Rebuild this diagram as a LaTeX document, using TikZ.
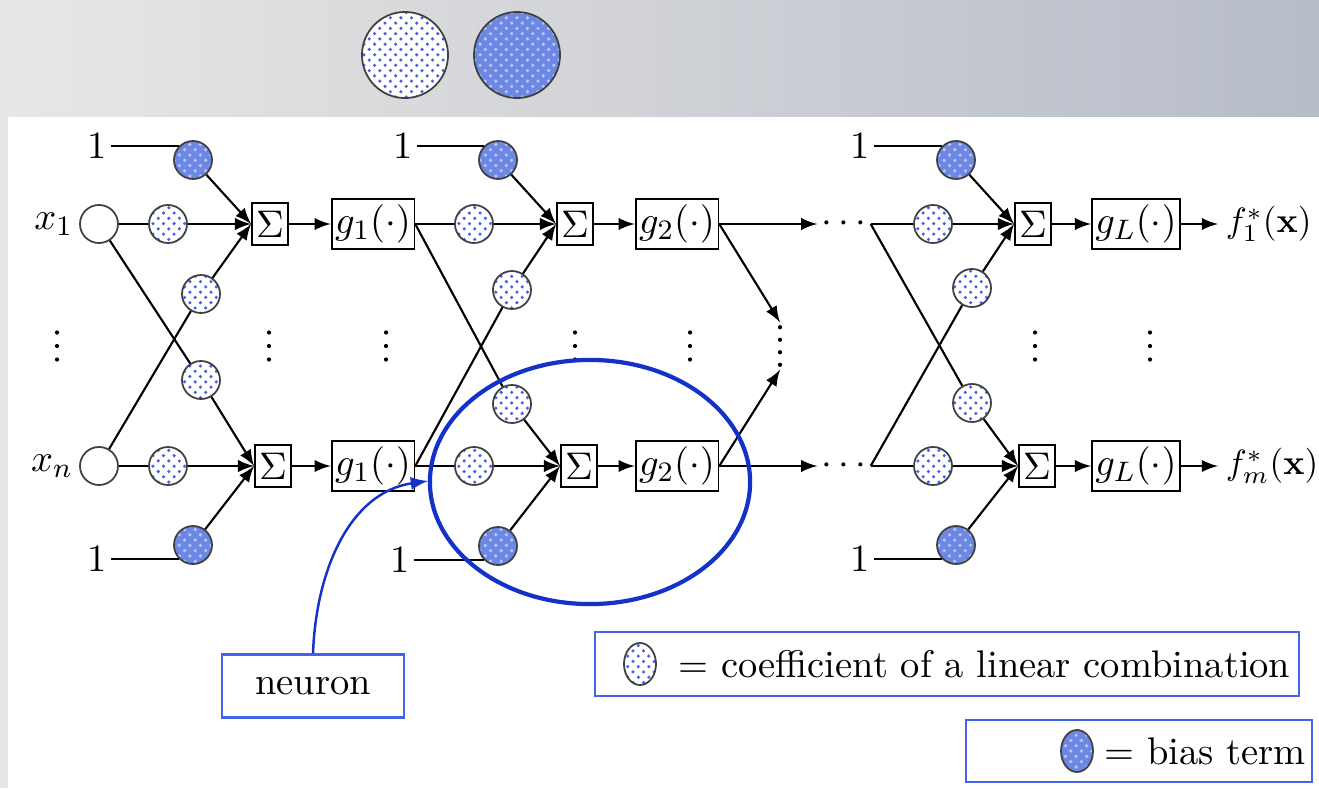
\documentclass[tikz,border=0pt]{standalone}
\usetikzlibrary{shapes.geometric,patterns}

\definecolor{biasblue}{RGB}{108,136,228}
\definecolor{dotblue}{RGB}{70,100,230}
\definecolor{ringblue}{RGB}{20,50,200}
\definecolor{boxblue}{RGB}{70,100,235}
\definecolor{bandleft}{RGB}{233,231,229}
\definecolor{bandright}{RGB}{182,188,200}

\tikzstyle{coef}=[circle,draw=black!75,line width=0.5pt,minimum size=0.38cm,inner sep=0pt,
preaction={fill=white},pattern=crosshatch dots,pattern color=dotblue]
\tikzstyle{bias}=[circle,draw=black!75,line width=0.5pt,minimum size=0.38cm,inner sep=0pt,
preaction={fill=biasblue},pattern=crosshatch dots,pattern color=white!55!biasblue]
\tikzstyle{input}=[circle,draw=black!75,line width=0.5pt,fill=white,minimum size=0.38cm,inner sep=0pt]
\tikzstyle{one}=[inner sep=1pt]
\tikzstyle{sumbox}=[rectangle,draw,line width=0.5pt,fill=white,minimum width=0.36cm,
minimum height=0.42cm,inner sep=0.5pt]
\tikzstyle{actbox}=[rectangle,draw,line width=0.5pt,fill=white,minimum width=0.78cm,
minimum height=0.5cm,inner sep=1pt]
\tikzstyle{dots}=[rectangle,minimum width=0.08cm,minimum height=0.32cm,inner sep=0pt,
path picture={\foreach \k in {-1,0,1}
  \fill (path picture bounding box.center) ++(0,\k*0.135cm) circle (0.6pt);}]
\tikzstyle{longdots}=[rectangle,minimum width=0.08cm,minimum height=0.46cm,inner sep=0pt,
path picture={\foreach \k in {-1.5,-0.5,0.5,1.5}
  \fill (path picture bounding box.center) ++(0,\k*0.125cm) circle (0.6pt);}]
\tikzstyle{line}=[draw,line width=0.6pt,color=black]
\tikzstyle{arrow}=[line,->,>=latex]
\tikzstyle{neuarrow}=[draw=ringblue,line width=0.7pt,->,>=latex]
\tikzstyle{legbox}=[rectangle,draw=boxblue,line width=0.6pt,fill=white]

\begin{document}
\begin{tikzpicture}[x=0.01cm,y=-0.01cm,font=\fontsize{10.95}{13}\selectfont]
% backdrop
\shade[left color=bandleft,right color=bandright] (0,0) rectangle (1319,117);
\fill[bandleft] (0,117) rectangle (8,788);
\useasboundingbox (0,0) rectangle (1319,788);

% header
\node[coef,minimum size=0.86cm] (hdcoef) at (405,55) {};
\node[bias,minimum size=0.86cm] (hdbias) at (517,55) {};

% layer 1
\node[input,label={[inner sep=1.5pt]left:$x_1$}] (in1) at (99,224) {};
\node[input,label={[inner sep=1.5pt]left:$x_n$}] (inn) at (99,466) {};
\node[coef] (c1a) at (168,224) {};
\node[coef] (c1n) at (168,466) {};
\node[coef] (x1a) at (201,294) {};
\node[coef] (x1n) at (201,380) {};
\node[bias] (b1a) at (193,160) {};
\node[bias] (b1n) at (193,545) {};
\node[one] (one1a) at (97,0 |- b1a.135) {1};
\node[one] (one1n) at (97,0 |- b1n.225) {1};
\node[sumbox] (s1a) at (270,224) {$\Sigma$};
\node[sumbox] (s1n) at (273,466) {$\Sigma$};
\node[actbox] (g1a) at (373,224) {$g_1(\cdot)$};
\node[actbox] (g1n) at (373,466) {$g_1(\cdot)$};
\node[dots] (dotsa) at (57,346) {};
\node[dots] (dotsb) at (269,346) {};
\node[dots] (dotsc) at (386,346) {};

\path[line] (in1) -- (c1a);
\path[arrow] (c1a) -- (s1a.west);
\path[line] (in1) -- (x1n);
\path[arrow] (x1n) -- (s1n.west);
\path[line] (inn) -- (x1a);
\path[arrow] (x1a) -- (s1a.west);
\path[line] (inn) -- (c1n);
\path[arrow] (c1n) -- (s1n.west);
\path[line] (one1a) -- (b1a.135);
\path[arrow] (b1a) -- (s1a.west);
\path[line] (one1n) -- (b1n.225);
\path[arrow] (b1n) -- (s1n.west);
\path[arrow] (s1a) -- (g1a);
\path[arrow] (s1n) -- (g1n);

% layer 2
\node[coef] (c2a) at (474,224) {};
\node[coef] (c2n) at (474,466) {};
\node[coef] (x2a) at (512,290) {};
\node[coef] (x2n) at (512,404) {};
\node[bias] (b2a) at (498,160) {};
\node[bias] (b2n) at (498,546) {};
\node[one] (one2a) at (403,0 |- b2a.135) {1};
\node[one] (one2n) at (400,0 |- b2n.225) {1};
\node[sumbox] (s2a) at (575,224) {$\Sigma$};
\node[sumbox] (s2n) at (579,466) {$\Sigma$};
\node[actbox] (g2a) at (677,224) {$g_2(\cdot)$};
\node[actbox] (g2n) at (677,466) {$g_2(\cdot)$};
\node[dots] (dotsd) at (575,346) {};
\node[dots] (dotse) at (690,346) {};
\node[longdots] (dotsf) at (780,346) {};
\node[inner sep=1pt] (hda) at (844,224) {$\cdots$};
\node[inner sep=1pt] (hdn) at (844,466) {$\cdots$};

\path[line] (g1a.east) -- (c2a);
\path[arrow] (c2a) -- (s2a.west);
\path[line] (g1a.east) -- (x2n);
\path[arrow] (x2n) -- (s2n.west);
\path[line] (g1n.east) -- (x2a);
\path[arrow] (x2a) -- (s2a.west);
\path[line] (g1n.east) -- (c2n);
\path[arrow] (c2n) -- (s2n.west);
\path[line] (one2a) -- (b2a.135);
\path[arrow] (b2a) -- (s2a.west);
\path[line] (one2n) -- (b2n.225);
\path[arrow] (b2n) -- (s2n.west);
\path[arrow] (s2a) -- (g2a);
\path[arrow] (s2n) -- (g2n);
\path[arrow] (g2a.east) -- (hda.west);
\path[arrow] (g2n.east) -- (hdn.west);
\path[arrow] (g2a.east) -- (dotsf.north);
\path[arrow] (g2n.east) -- (dotsf.south);

% layer L
\node[coef] (cLa) at (933,224) {};
\node[coef] (cLn) at (933,466) {};
\node[coef] (xLa) at (972,288) {};
\node[coef] (xLn) at (972,403) {};
\node[bias] (bLa) at (956,160) {};
\node[bias] (bLn) at (956,545) {};
\node[one] (oneLa) at (860,0 |- bLa.135) {1};
\node[one] (oneLn) at (860,0 |- bLn.225) {1};
\node[sumbox] (sLa) at (1033,224) {$\Sigma$};
\node[sumbox] (sLn) at (1037,466) {$\Sigma$};
\node[actbox] (gLa) at (1136,224) {$g_L(\cdot)$};
\node[actbox] (gLn) at (1136,466) {$g_L(\cdot)$};
\node[anchor=west,inner sep=2pt,font=\fontsize{10}{12}\selectfont] (outa) at (1218,224) {$f_1^*(\mathbf{x})$};
\node[anchor=west,inner sep=2pt,font=\fontsize{10}{12}\selectfont] (outn) at (1218,466) {$f_m^*(\mathbf{x})$};
\node[dots] (dotsg) at (1035,346) {};
\node[dots] (dotsh) at (1150,346) {};

\path[line] (hda.east) -- (cLa);
\path[arrow] (cLa) -- (sLa.west);
\path[line] (hda.east) -- (xLn);
\path[arrow] (xLn) -- (sLn.west);
\path[line] (hdn.east) -- (xLa);
\path[arrow] (xLa) -- (sLa.west);
\path[line] (hdn.east) -- (cLn);
\path[arrow] (cLn) -- (sLn.west);
\path[line] (oneLa) -- (bLa.135);
\path[arrow] (bLa) -- (sLa.west);
\path[line] (oneLn) -- (bLn.225);
\path[arrow] (bLn) -- (sLn.west);
\path[arrow] (sLa) -- (gLa);
\path[arrow] (sLn) -- (gLn);
\path[arrow] (gLa.east) -- (gLa.east -| outa.west);
\path[arrow] (gLn.east) -- (gLn.east -| outn.west);

% neuron
\node[draw=ringblue,line width=1.2pt,ellipse,minimum width=3.2cm,minimum height=2.44cm,
inner sep=0pt] (ring) at (590,482) {};
\node[legbox,minimum width=1.82cm,minimum height=0.63cm] (neuron) at (313,686) {neuron};
\coordinate (neutip) at (428,481);
\draw[neuarrow] (neuron.north) .. controls (316,570) and (350,492) .. (neutip);

% legend
\node[legbox,minimum width=7.03cm,minimum height=0.64cm] (legcoef) at (947,664) {};
\node[coef,ellipse,minimum width=0.32cm,minimum height=0.42cm] (legc) at (640,664) {};
\node[anchor=west] (legctext) at (666,664) {= coefficient of a linear combination};
\node[legbox,minimum width=3.46cm,minimum height=0.62cm] (legbias) at (1139,751) {};
\node[bias,ellipse,minimum width=0.32cm,minimum height=0.42cm] (legb) at (1077,751) {};
\node[anchor=west] (legbtext) at (1092,751) {= bias term};
\end{tikzpicture}
\end{document}
